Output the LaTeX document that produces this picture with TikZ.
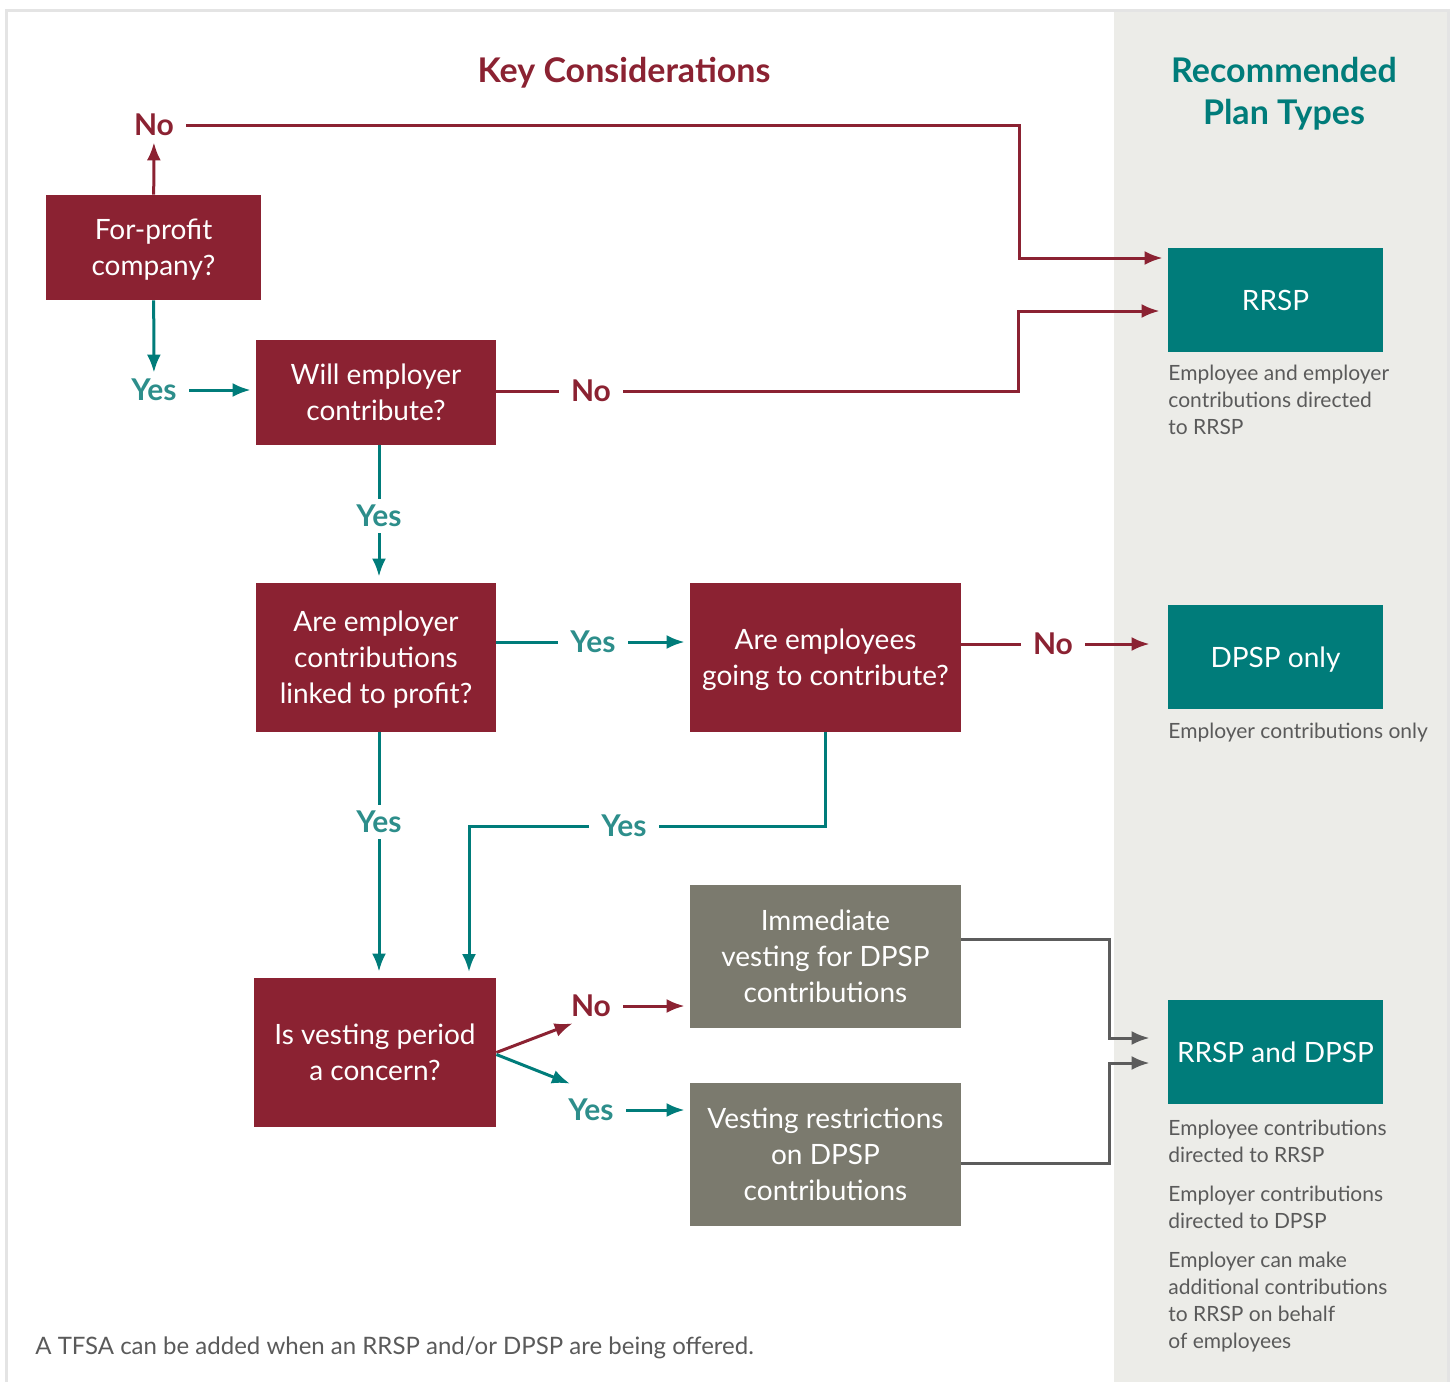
\documentclass[tikz,border=0pt]{standalone}
\usepackage{fontspec}
\setmainfont{Lato}
\usetikzlibrary{arrows.meta}
\definecolor{keyred}{HTML}{8B2232}
\definecolor{planteal}{HTML}{007C7A}
\definecolor{yesteal}{HTML}{2D8E8B}
\definecolor{vestgray}{HTML}{7B7A6E}
\definecolor{panelgray}{HTML}{ECECE8}
\definecolor{framegray}{HTML}{E4E4E4}
\definecolor{notegray}{HTML}{5A5A5A}
\definecolor{linkgray}{HTML}{5C5C5C}
\tikzstyle{question}=[rectangle,fill=keyred,text=white,align=center,inner sep=0pt,text depth=0pt,font=\fontsize{14}{18}\selectfont]
\tikzstyle{outcome}=[question,fill=vestgray]
\tikzstyle{plan}=[question,fill=planteal,minimum width=107.5pt,minimum height=52pt]
\tikzstyle{nolabel}=[text=keyred,font=\bfseries\fontsize{15}{18}\selectfont,inner xsep=6pt,inner ysep=3pt]
\tikzstyle{yeslabel}=[nolabel,text=yesteal]
\tikzstyle{note}=[text=notegray,align=left,anchor=north west,inner sep=0pt,font=\fontsize{10.5}{13.5}\selectfont]
\tikzstyle{title}=[font=\bfseries\fontsize{17}{21}\selectfont,align=center]
\tikzstyle{noline}=[draw=keyred,line width=1.5pt]
\tikzstyle{yesline}=[draw=planteal,line width=1.5pt]
\tikzstyle{noarrow}=[noline,-{Latex[length=9pt,width=7pt]}]
\tikzstyle{yesarrow}=[yesline,-{Latex[length=9pt,width=7pt]}]
\tikzstyle{grayarrow}=[draw=linkgray,line width=1.5pt,-{Latex[length=9pt,width=7pt]}]

\begin{document}
\begin{tikzpicture}[x=0.5pt,y=-0.5pt]
    \useasboundingbox (0,0) rectangle (1453,1382);
    % Panel for the plan types and the frame
    \fill[panelgray] (1114,12) rectangle (1447,1382);
    \draw[framegray,line width=1.5pt] (6,1382) -- (6,10) -- (1448,10) -- (1448,1382);
    \node[title,text=keyred] (keytitle) at (624,73) {Key Considerations};
    \node[title,text=planteal] (plantitle) at (1284,94) {Recommended\\Plan Types};

    % First we draw the questions
    \node[question,minimum width=107.5pt,minimum height=52.5pt] (forprofit) at (153.5,247.5) {For-profit\\company?};
    \node[question,minimum width=120pt,minimum height=52.5pt] (willpay) at (376,392.5) {Will employer\\contribute?};
    \node[question,minimum width=120pt,minimum height=74.5pt] (linked) at (376,657.5) {Are employer\\contributions\\linked to profit?};
    \node[question,minimum width=135.5pt,minimum height=74.5pt] (employees) at (825.5,657.5) {Are employees\\going to contribute?};
    \node[question,minimum width=121pt,minimum height=74.5pt] (vesting) at (375,1052.5) {Is vesting period\\a concern?};
    \node[outcome,minimum width=135.5pt,minimum height=71.5pt] (immediate) at (825.5,956.5) {Immediate\\vesting for DPSP\\contributions};
    \node[outcome,minimum width=135.5pt,minimum height=71.5pt] (restrict) at (825.5,1154.5) {Vesting restrictions\\on DPSP\\contributions};

    % Then the recommended plans
    \foreach \pos/\name/\txt in {{(1275.5,300)/rrsp/RRSP}, {(1275.5,657)/dpsp/DPSP only}, {(1275.5,1052)/both/RRSP and DPSP}}
        \node[plan] (\name) at \pos {\txt};
    \node[note] (noteA) at (1168,365) {Employee and employer\\contributions directed\\to RRSP};
    \node[note] (noteB) at (1168,723) {Employer contributions only};
    \node[note] (noteC) at (1168,1120) {Employee contributions\\directed to RRSP\\[6pt]Employer contributions\\directed to DPSP\\[6pt]Employer can make\\additional contributions\\to RRSP on behalf\\of employees};
    \node[note,anchor=west,font=\fontsize{12}{14}\selectfont] (tfsa) at (35,1348) {A TFSA can be added when an RRSP and/or DPSP are being offered.};

    % Yes and No labels
    \foreach \pos/\name/\kind/\txt in {{(154,125)/noA/nolabel/No}, {(154,390)/yesA/yeslabel/Yes}, {(591,391)/noB/nolabel/No}, {(379,516)/yesB/yeslabel/Yes}, {(593,642)/yesC/yeslabel/Yes}, {(1053,644)/noD/nolabel/No}, {(379,822)/yesE/yeslabel/Yes}, {(624,826)/yesF/yeslabel/Yes}, {(591,1006)/noG/nolabel/No}, {(591,1110)/yesG/yeslabel/Yes}}
        \node[\kind] (\name) at \pos {\txt};

    % Connect the boxes
    \coordinate (kinkA) at (1019,258);
    \coordinate (kinkB) at (1018,311);
    \coordinate (dropF) at (469,978);
    \coordinate (kinkH) at (1109,1038);
    \coordinate (kinkI) at (1109,1063);
    \draw[noarrow] (forprofit) -- (noA);
    \draw[noarrow,shorten >=2.5pt] (noA) -| (kinkA) -- (kinkA -| rrsp.west);
    \draw[yesarrow] (forprofit) -- (yesA);
    \draw[yesarrow,shorten >=2.5pt] (yesA) -- (yesA -| willpay.west);
    \draw[noline] (willpay.east |- noB) -- (noB);
    \draw[noarrow,shorten >=4pt] (noB) -| (kinkB) -- (kinkB -| rrsp.west);
    \draw[yesline] (willpay.south -| yesB) -- (yesB);
    \draw[yesarrow,shorten >=3pt] (yesB) -- (yesB |- linked.north);
    \draw[yesline] (linked.east |- yesC) -- (yesC);
    \draw[yesarrow,shorten >=2.5pt] (yesC) -- (yesC -| employees.west);
    \draw[noline] (employees.east |- noD) -- (noD);
    \draw[noarrow,shorten >=9pt] (noD) -- (noD -| dpsp.west);
    \draw[yesline] (linked.south -| yesE) -- (yesE);
    \draw[yesarrow,shorten >=3pt] (yesE) -- (yesE |- vesting.north);
    \draw[yesline] (employees.south) |- (yesF);
    \draw[yesarrow,shorten >=3pt] (yesF) -| (dropF);
    \draw[noarrow] (vesting.east) -- ([xshift=7pt]noG.south west);
    \draw[yesarrow] ([yshift=-1pt]vesting.east) -- ([shift={(7pt,4.5pt)}]yesG.north west);
    \draw[noarrow,shorten >=2.5pt] (noG) -- (noG -| immediate.west);
    \draw[yesarrow,shorten >=2.5pt] (yesG) -- (yesG -| restrict.west);
    \draw[grayarrow,shorten >=9pt] ([yshift=8.75pt]immediate.east) -| (kinkH) -- (kinkH -| both.west);
    \draw[grayarrow,shorten >=9pt] ([yshift=-4.25pt]restrict.east) -| (kinkI) -- (kinkI -| both.west);
\end{tikzpicture}
\end{document}
